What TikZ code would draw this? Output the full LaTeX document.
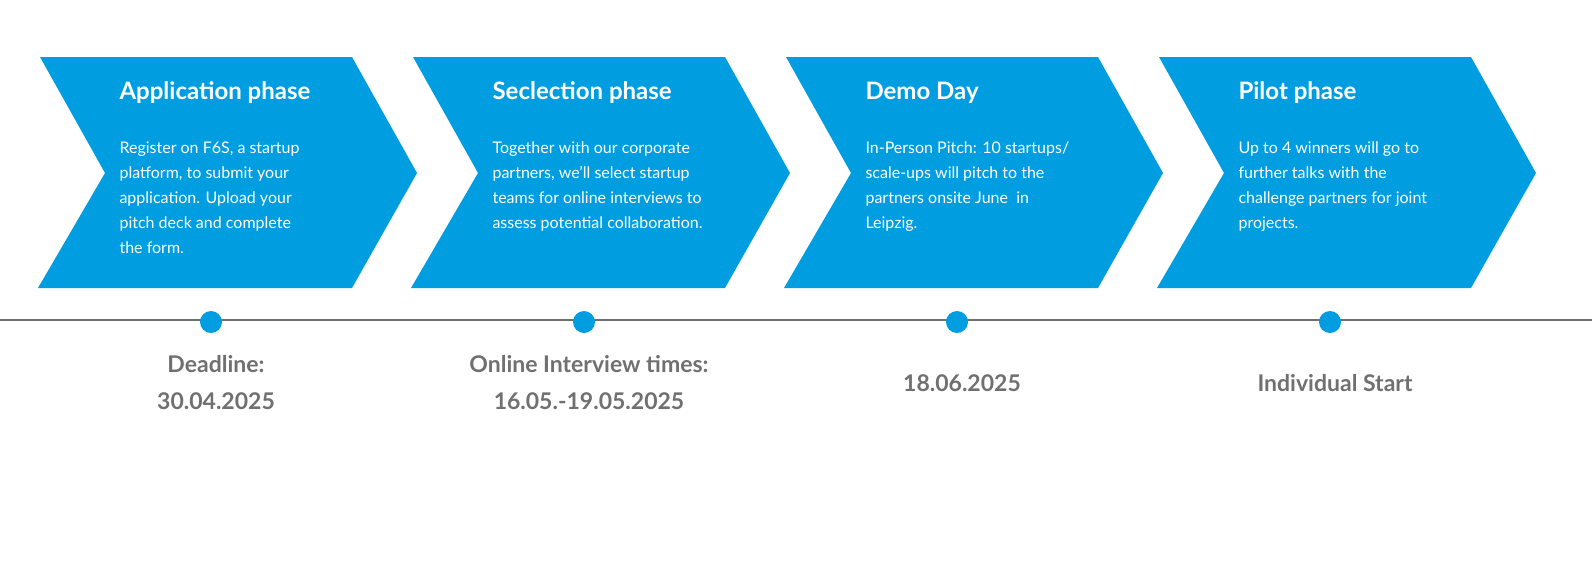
\documentclass[tikz,border=0pt]{standalone}
\usepackage{fontspec}
\setmainfont{Lato}
\definecolor{chevblue}{RGB}{0,158,224}
\definecolor{dategray}{RGB}{112,112,112}
\tikzset{
  chevron/.style={fill=chevblue},
  phasetitle/.style={anchor=west, text=white, font=\fontsize{24}{28}\selectfont\bfseries},
  phasetext/.style={anchor=north west, text=white, align=left, font=\fontsize{16}{25}\selectfont},
  datelabel/.style={text=dategray, align=center, font=\fontsize{23}{37}\selectfont\bfseries},
  dot/.style={circle, fill=chevblue, minimum size=22pt, inner sep=0pt}
}
\begin{document}
\begin{tikzpicture}[x=1pt,y=-1pt]
  \useasboundingbox (0,0) rectangle (1592,568);
  % timeline
  \coordinate (lineL) at (0,320);
  \coordinate (lineR) at (1592,320);
  \draw[dategray, line width=1.5pt] (lineL) -- (lineR);
  % chevrons
  \foreach \i/\title/\body/\date in {
    0/Application phase/{Register on F6S, a startup\\platform, to submit your\\application. Upload your\\pitch deck and complete\\the form.}/{Deadline:\\30.04.2025},
    1/Seclection phase/{Together with our corporate\\partners, we'll select startup\\teams for online interviews to\\assess potential collaboration.}/{Online Interview times:\\16.05.-19.05.2025},
    2/Demo Day/{In-Person Pitch: 10 startups/\\scale-ups will pitch to the\\partners onsite June\ \ in\\Leipzig.}/{18.06.2025},
    3/Pilot phase/{Up to 4 winners will go to\\further talks with the\\challenge partners for joint\\projects.}/{Individual Start}} {
    \pgfmathsetmacro{\xo}{40+373*\i}
    \fill[chevron] (\xo,57) -- ++(312,0) -- ++(65,116) -- ++(-65,115)
      -- ++(-314,0) -- ++(67,-115) -- cycle;
    \node[phasetitle] (title\i) at (\xo+76,93) {\title};
    \node[phasetext] (body\i) at (\xo+76,138) {\body};
    \node[dot] (dot\i) at (\xo+171,322) {};
    \node[datelabel] (date\i) at (\xo+176,383) {\date};
  }
\end{tikzpicture}
\end{document}
